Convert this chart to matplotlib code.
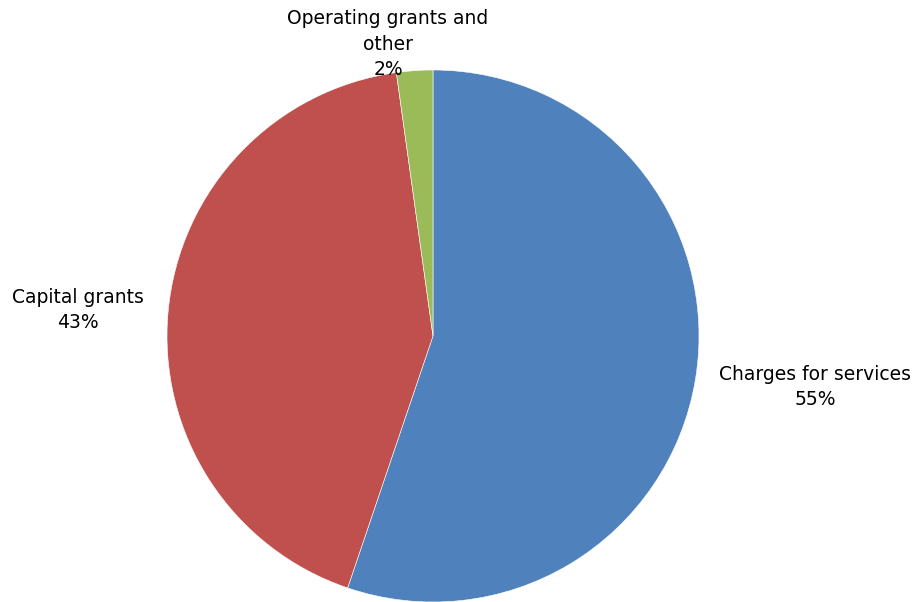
import matplotlib
matplotlib.use("Agg")
import matplotlib.pyplot as plt

categories = ["Charges for services", "Capital grants", "Operating grants and\nother"]
values = [55.2, 42.6, 2.2]
colors = ["#4F81BD", "#C0504D", "#9BBB59"]

W, H = 914, 602
fig = plt.figure(figsize=(W / 100, H / 100), dpi=100)
ax = fig.add_axes([0, 0, 1, 1])

cx, cy, r = 433, H - 336, 266
ax.pie(values, colors=colors, startangle=90, counterclock=False,
       center=(cx, cy), radius=r, frame=True,
       wedgeprops=dict(linewidth=0.4, edgecolor="white"))
ax.set_xlim(0, W)
ax.set_ylim(0, H)
ax.set_aspect("equal")
ax.axis("off")

total = sum(values)
label_pos = [(815, H - 387), (78, H - 310), (388, H - 44)]
for cat, v, (x, y) in zip(categories, values, label_pos):
    ax.text(x, y, f"{cat}\n{round(v / total * 100)}%", ha="center", va="center",
            fontsize=13.5, family="DejaVu Sans", color="#000000", linespacing=1.42)

fig.savefig("out.png", dpi=100)
